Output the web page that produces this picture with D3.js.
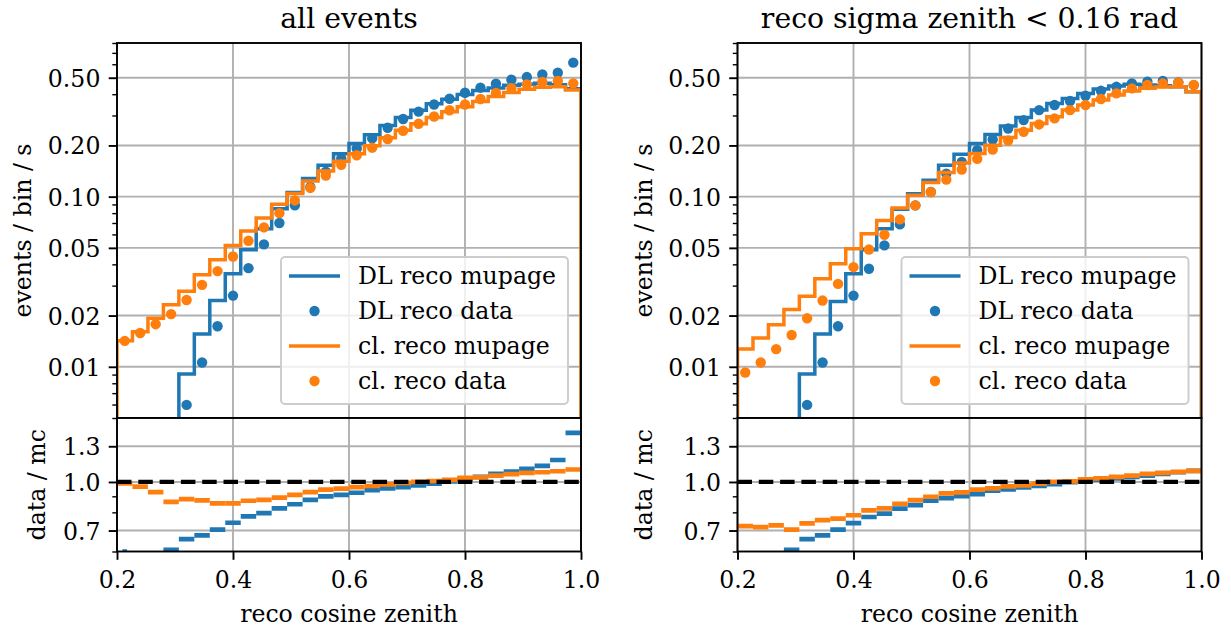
<!DOCTYPE html>
<html>
<head>
<meta charset="utf-8">
<script src="https://cdn.jsdelivr.net/npm/d3@7"></script>
<style>
  body { margin: 0; background: #fff; }
  svg text { font-family: "DejaVu Serif", serif; fill: #000; }
</style>
</head>
<body>
<svg width="1231" height="632"></svg>
<script>
// histogram bin edges (reco cosine zenith)
const binEdges = [0.2, 0.22667, 0.25333, 0.28, 0.30667, 0.33333, 0.36, 0.38667, 0.41333, 0.44,
  0.46667, 0.49333, 0.52, 0.54667, 0.57333, 0.6, 0.62667, 0.65333, 0.68, 0.70667,
  0.73333, 0.76, 0.78667, 0.81333, 0.84, 0.86667, 0.89333, 0.92, 0.94667, 0.97333, 1.0];

// --- all events ---
const dlMcAll = [0.0012, 0.0020, 0.0030, 0.0044, 0.00906, 0.0156, 0.0245, 0.0352, 0.0487, 0.0648,
  0.085, 0.1056, 0.1277, 0.153, 0.1785, 0.2051, 0.231, 0.2621, 0.2922, 0.322,
  0.352, 0.374, 0.399, 0.421, 0.435, 0.451, 0.458, 0.464, 0.455, 0.43];
const dlDataAll = [0.0005, 0.0009, 0.0015, 0.0027, 0.00597, 0.0106, 0.0173, 0.0262, 0.038, 0.0524,
  0.07, 0.089, 0.114, 0.14, 0.168, 0.192, 0.22, 0.254, 0.286, 0.316,
  0.348, 0.376, 0.408, 0.437, 0.461, 0.487, 0.5045, 0.523, 0.535, 0.613];
const clMcAll = [0.01423, 0.01607, 0.01927, 0.02319, 0.0278, 0.0348, 0.0425, 0.0517, 0.0628, 0.0749,
  0.0901, 0.1042, 0.1237, 0.1417, 0.1615, 0.179, 0.199, 0.222, 0.246, 0.268,
  0.292, 0.316, 0.338, 0.362, 0.388, 0.41, 0.428, 0.44, 0.443, 0.423];
const clDataAll = [0.0142, 0.0158, 0.0178, 0.0204, 0.0247, 0.0303, 0.0365, 0.0445, 0.055, 0.066,
  0.08, 0.095, 0.1125, 0.133, 0.154, 0.175, 0.194, 0.218, 0.244, 0.268,
  0.296, 0.322, 0.348, 0.375, 0.407, 0.434, 0.457, 0.472, 0.479, 0.463];
const dlRatioAll = [0.42, 0.45, 0.5, 0.607, 0.657, 0.675, 0.705, 0.741, 0.777, 0.796,
  0.824, 0.849, 0.877, 0.899, 0.91, 0.924, 0.942, 0.954, 0.963, 0.976,
  0.988, 1.005, 1.022, 1.038, 1.061, 1.08, 1.101, 1.126, 1.175, 1.435];
const dlRatioErrAll = [0.19, 0, 0, 0.006, 0, 0, 0, 0, 0, 0, 0, 0, 0, 0, 0,
  0, 0, 0, 0, 0, 0, 0, 0, 0, 0, 0, 0, 0, 0, 0];
const clRatioAll = [0.99, 0.966, 0.928, 0.864, 0.882, 0.873, 0.855, 0.855, 0.871, 0.877,
  0.892, 0.91, 0.928, 0.945, 0.952, 0.963, 0.971, 0.983, 0.993, 1.0,
  1.007, 1.015, 1.03, 1.035, 1.048, 1.059, 1.069, 1.074, 1.082, 1.096];

// --- reco sigma zenith < 0.16 rad ---
const dlMcSig = [0.0012, 0.0020, 0.0030, 0.0044, 0.00906, 0.0156, 0.0242, 0.0352, 0.0487, 0.0648,
  0.0842, 0.1041, 0.1248, 0.153, 0.1776, 0.2051, 0.232, 0.2606, 0.2922, 0.3227,
  0.3533, 0.378, 0.4045, 0.4293, 0.4473, 0.4575, 0.4532, 0.449, 0.443, 0.413];
const dlDataSig = [0.0005, 0.0009, 0.0015, 0.0027, 0.00597, 0.0106, 0.0173, 0.0262, 0.0377, 0.0517,
  0.0687, 0.0889, 0.1065, 0.1366, 0.16, 0.1875, 0.2168, 0.2516, 0.2818, 0.3227,
  0.3456, 0.3647, 0.3916, 0.4189, 0.4422, 0.4634, 0.474, 0.4785, 0.4696, 0.4526];
const clMcSig = [0.0127, 0.01476, 0.01768, 0.02168, 0.02598, 0.03287, 0.04028, 0.04937, 0.06053, 0.07253,
  0.08574, 0.1018, 0.1209, 0.1385, 0.1579, 0.1792, 0.2007, 0.2227, 0.246, 0.2693,
  0.2949, 0.3227, 0.3454, 0.3697, 0.3956, 0.4177, 0.4331, 0.441, 0.443, 0.413];
const clDataSig = [0.00926, 0.0106, 0.0127, 0.01537, 0.01927, 0.0245, 0.0307, 0.0385, 0.0489, 0.0597,
  0.0735, 0.0889, 0.1065, 0.1259, 0.1443, 0.1667, 0.1892, 0.2138, 0.2405, 0.2657,
  0.2883, 0.3227, 0.3454, 0.3748, 0.4047, 0.4331, 0.4532, 0.4634, 0.4679, 0.4532];
const dlRatioSig = [0.42, 0.45, 0.5, 0.607, 0.657, 0.675, 0.705, 0.739, 0.773, 0.792,
  0.822, 0.843, 0.871, 0.888, 0.901, 0.915, 0.938, 0.947, 0.961, 0.971,
  0.985, 0.998, 1.01, 1.017, 1.027, 1.038, 1.048, 1.061, 1.074, 1.085];
const dlRatioErrSig = [0.18, 0, 0, 0.006, 0, 0, 0, 0, 0, 0, 0, 0, 0, 0, 0,
  0, 0, 0, 0, 0, 0, 0, 0, 0, 0, 0, 0, 0, 0, 0];
const clRatioSig = [0.723, 0.718, 0.727, 0.705, 0.738, 0.756, 0.764, 0.783, 0.812, 0.824,
  0.852, 0.875, 0.897, 0.919, 0.926, 0.945, 0.954, 0.968, 0.976, 0.988,
  1.0, 1.005, 1.02, 1.027, 1.038, 1.048, 1.061, 1.069, 1.077, 1.085];

// ticks
const xTicks = [0.2, 0.4, 0.6, 0.8, 1.0];
const yMajor = [0.01, 0.02, 0.05, 0.1, 0.2, 0.5];
const yMinor = [0.005, 0.006, 0.007, 0.008, 0.009, 0.03, 0.04, 0.06, 0.07, 0.08, 0.09, 0.3, 0.4, 0.6, 0.7, 0.8];
const rMajor = [0.7, 1.0, 1.3];
const rMinor = [0.6, 0.8, 0.9];
const legendLabels = ["DL reco mupage", "DL reco data", "cl. reco mupage", "cl. reco data"];

const blue = "#1f77b4", orange = "#ff7f0e";
const fs = 23.6;

const svg = d3.select("svg");
const defs = svg.append("defs");

const top0 = 43, mid = 418, bot = 551.5;

const panels = [
  { id: "a", title: "all events", x0: 117, x1: 581,
    dlMc: dlMcAll, dlData: dlDataAll, clMc: clMcAll, clData: clDataAll,
    dlRatio: dlRatioAll, dlErr: dlRatioErrAll, clRatio: clRatioAll,
    yLabX: 31, rLabX: 44.5 },
  { id: "b", title: "reco sigma zenith < 0.16 rad", x0: 737.5, x1: 1201.5,
    dlMc: dlMcSig, dlData: dlDataSig, clMc: clMcSig, clData: clDataSig,
    dlRatio: dlRatioSig, dlErr: dlRatioErrSig, clRatio: clRatioSig,
    yLabX: 652, rLabX: 652 }
];

panels.forEach(p => {
  const x = d3.scaleLinear().domain([0.2, 1.0]).range([p.x0, p.x1]);
  const y = d3.scaleLog().domain([0.005, 0.8]).range([mid, top0]);
  const r = d3.scaleLog().domain([0.6, 1.6]).range([bot, mid]);
  const w = p.x1 - p.x0;
  const centers = binEdges.slice(0, -1).map((e, i) => (e + binEdges[i + 1]) / 2);

  defs.append("clipPath").attr("id", "clipTop" + p.id)
    .append("rect").attr("x", p.x0).attr("y", top0).attr("width", w).attr("height", mid - top0);
  defs.append("clipPath").attr("id", "clipBot" + p.id)
    .append("rect").attr("x", p.x0).attr("y", mid).attr("width", w).attr("height", bot - mid);

  // ---------- top panel ----------
  const gt = svg.append("g");
  const grid = gt.append("g").attr("stroke", "#b0b0b0").attr("stroke-width", 1.9);
  grid.selectAll("line.gx").data(xTicks).join("line")
    .attr("x1", d => x(d)).attr("x2", d => x(d)).attr("y1", top0).attr("y2", mid);
  grid.selectAll("line.gy").data(yMajor).join("line")
    .attr("x1", p.x0).attr("x2", p.x1).attr("y1", d => y(d)).attr("y2", d => y(d));

  const plot = gt.append("g").attr("clip-path", `url(#clipTop${p.id})`);
  const stepLine = d3.line().x(d => x(d[0])).y(d => y(d[1]));
  function stepPoints(vals) {
    const pts = [[binEdges[0], 1e-4]];
    vals.forEach((v, i) => { pts.push([binEdges[i], v]); pts.push([binEdges[i + 1], v]); });
    pts.push([binEdges[binEdges.length - 1], 1e-4]);
    return pts;
  }
  function drawStep(vals, color) {
    plot.append("path").datum(stepPoints(vals)).attr("d", stepLine)
      .attr("fill", "none").attr("stroke", color).attr("stroke-width", 3.5)
      .attr("stroke-linejoin", "miter");
  }
  function drawDots(vals, color) {
    plot.append("g").selectAll("circle").data(vals).join("circle")
      .attr("cx", (d, i) => x(centers[i])).attr("cy", d => y(d)).attr("r", 5.2)
      .attr("fill", color);
  }
  drawStep(p.dlMc, blue);
  drawDots(p.dlData, blue);
  drawStep(p.clMc, orange);
  drawDots(p.clData, orange);

  // legend
  const lg = gt.append("g").attr("transform", `translate(${p.x1 - 300},257)`);
  lg.append("rect").attr("width", 287).attr("height", 147).attr("rx", 4)
    .attr("fill", "white").attr("fill-opacity", 0.8)
    .attr("stroke", "#cccccc").attr("stroke-width", 1.9);
  const lcol = [blue, blue, orange, orange];
  legendLabels.forEach((lab, i) => {
    const ly = 19 + i * 35;
    if (i % 2 === 0) {
      lg.append("line").attr("x1", 8).attr("x2", 59).attr("y1", ly).attr("y2", ly)
        .attr("stroke", lcol[i]).attr("stroke-width", 3.5);
    } else {
      lg.append("circle").attr("cx", 33.5).attr("cy", ly).attr("r", 5.2).attr("fill", lcol[i]);
    }
    lg.append("text").attr("x", 77).attr("y", ly + 8.3).attr("font-size", fs).text(lab);
  });

  // y axis (major + minor)
  const yAx = gt.append("g").attr("transform", `translate(${p.x0},0)`)
    .call(d3.axisLeft(y).tickValues(yMajor).tickFormat(d3.format(".2f"))
      .tickSize(8.3).tickPadding(8.3));
  const yAxm = gt.append("g").attr("transform", `translate(${p.x0},0)`)
    .call(d3.axisLeft(y).tickValues(yMinor).tickFormat("").tickSize(4.7));
  [yAx, yAxm].forEach(a => {
    a.select(".domain").remove();
    a.attr("font-family", null).attr("font-size", null);
  });
  yAx.selectAll("line").attr("stroke-width", 1.9);
  yAxm.selectAll("line").attr("stroke-width", 1.4);
  yAx.selectAll("text").attr("font-size", fs).attr("dy", "0.36em");

  gt.append("rect").attr("x", p.x0).attr("y", top0).attr("width", w).attr("height", mid - top0)
    .attr("fill", "none").attr("stroke", "#000").attr("stroke-width", 1.9);

  gt.append("text").attr("x", (p.x0 + p.x1) / 2).attr("y", 28)
    .attr("text-anchor", "middle").attr("font-size", 28.3).text(p.title);
  gt.append("text").attr("transform", `translate(${p.yLabX},${(top0 + mid) / 2}) rotate(-90)`)
    .attr("text-anchor", "middle").attr("font-size", fs).text("events / bin / s");

  // ---------- ratio panel ----------
  const gb = svg.append("g");
  gb.append("rect").attr("x", p.x0).attr("y", mid).attr("width", w).attr("height", bot - mid)
    .attr("fill", "white");
  const gridb = gb.append("g").attr("stroke", "#b0b0b0").attr("stroke-width", 1.9);
  gridb.selectAll("line.gx").data(xTicks).join("line")
    .attr("x1", d => x(d)).attr("x2", d => x(d)).attr("y1", mid).attr("y2", bot);
  gridb.selectAll("line.gy").data(rMajor).join("line")
    .attr("x1", p.x0).attr("x2", p.x1).attr("y1", d => r(d)).attr("y2", d => r(d));

  const rplot = gb.append("g").attr("clip-path", `url(#clipBot${p.id})`);
  function drawRatio(vals, errs, color) {
    const g = rplot.append("g").attr("stroke", color).attr("stroke-width", 4.7);
    vals.forEach((v, i) => {
      g.append("line").attr("x1", x(binEdges[i])).attr("x2", x(binEdges[i + 1]))
        .attr("y1", r(v)).attr("y2", r(v));
      const e = errs ? errs[i] : 0;
      if (e > 0) {
        g.append("line").attr("x1", x(centers[i])).attr("x2", x(centers[i]))
          .attr("y1", r(Math.max(v - e, 0.05))).attr("y2", r(v + e));
      }
    });
  }
  drawRatio(p.dlRatio, p.dlErr, blue);
  drawRatio(p.clRatio, null, orange);
  rplot.append("line").attr("x1", p.x0).attr("x2", p.x1).attr("y1", r(1)).attr("y2", r(1))
    .attr("stroke", "#000").attr("stroke-width", 4.2).attr("stroke-dasharray", "14.5,6.8");

  const rAx = gb.append("g").attr("transform", `translate(${p.x0},0)`)
    .call(d3.axisLeft(r).tickValues(rMajor).tickFormat(d3.format(".1f"))
      .tickSize(8.3).tickPadding(8.3));
  const rAxm = gb.append("g").attr("transform", `translate(${p.x0},0)`)
    .call(d3.axisLeft(r).tickValues(rMinor).tickFormat("").tickSize(4.7));
  const xAx = gb.append("g").attr("transform", `translate(0,${bot})`)
    .call(d3.axisBottom(x).tickValues(xTicks).tickFormat(d3.format(".1f"))
      .tickSize(8.3).tickPadding(8.3));
  [rAx, rAxm, xAx].forEach(a => {
    a.select(".domain").remove();
    a.attr("font-family", null).attr("font-size", null);
  });
  rAx.selectAll("line").attr("stroke-width", 1.9);
  rAxm.selectAll("line").attr("stroke-width", 1.4);
  xAx.selectAll("line").attr("stroke-width", 1.9);
  rAx.selectAll("text").attr("font-size", fs).attr("dy", "0.36em");
  xAx.selectAll("text").attr("font-size", fs).attr("dy", null).attr("y", 36.5);

  gb.append("rect").attr("x", p.x0).attr("y", mid).attr("width", w).attr("height", bot - mid)
    .attr("fill", "none").attr("stroke", "#000").attr("stroke-width", 1.9);

  gb.append("text").attr("transform", `translate(${p.rLabX},${(mid + bot) / 2}) rotate(-90)`)
    .attr("text-anchor", "middle").attr("font-size", fs).text("data / mc");
  gb.append("text").attr("x", (p.x0 + p.x1) / 2).attr("y", 621.5)
    .attr("text-anchor", "middle").attr("font-size", fs).text("reco cosine zenith");
});
</script>
</body>
</html>
